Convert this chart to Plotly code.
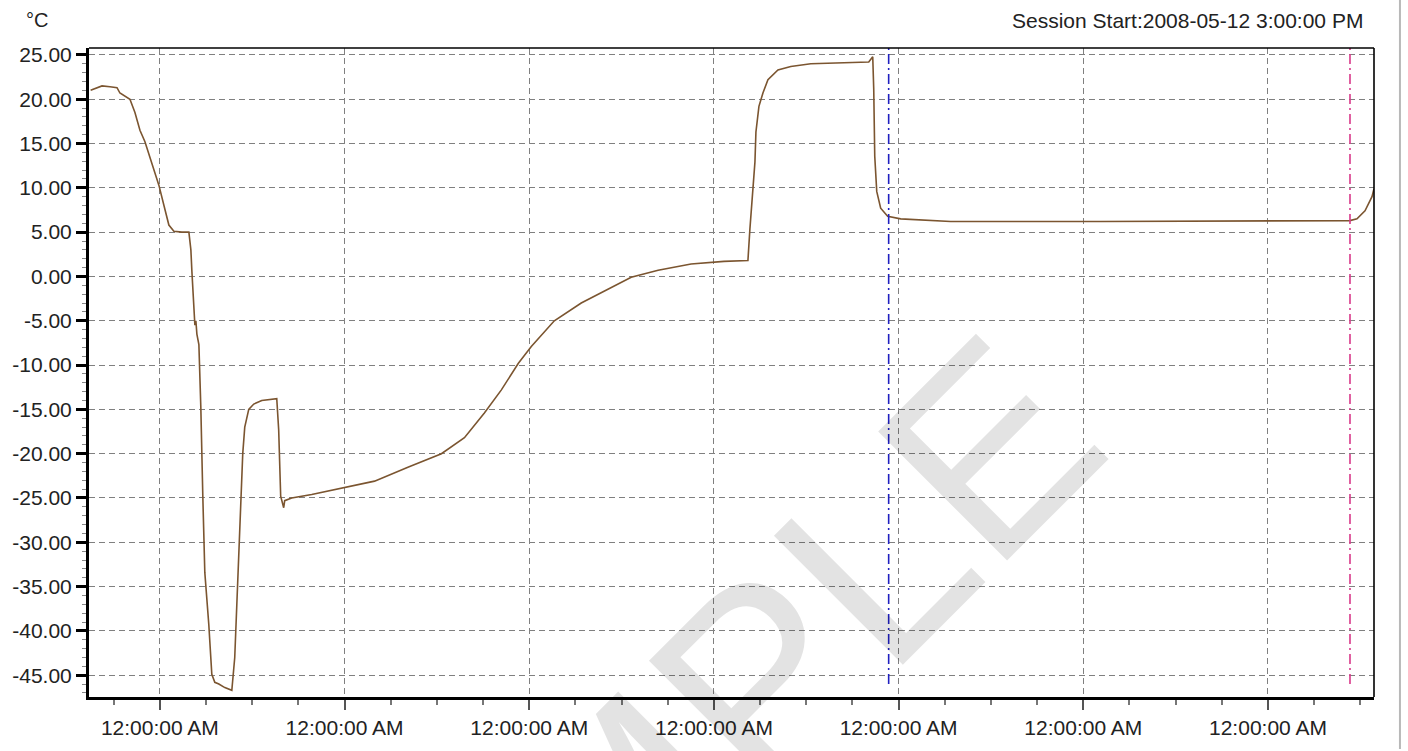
import pandas as pd
import plotly.graph_objects as go

# ---------------- data ----------------
session_start = "2008-05-12 15:00:00"

# hours elapsed since session start
hours = [0.0, 0.83, 1.48, 2.52, 3.43, 3.81, 4.59, 5.11, 5.76, 6.41, 7.06, 7.97, 8.87,
         9.53, 10.17, 10.82, 11.86, 12.77, 13.03, 13.16, 13.42, 13.55, 13.68, 13.81,
         14.07, 14.32, 14.58, 14.84, 15.36, 15.75, 16.14, 16.66, 17.44, 18.35, 18.73,
         19.25, 19.51, 19.77, 20.03, 20.55, 21.20, 22.24, 24.19, 24.44, 24.70, 25.09,
         25.22, 26.13, 28.73, 32.62, 36.90, 41.31, 45.59, 48.58, 51.17, 53.38, 55.59,
         57.27, 60.26, 63.76, 67.26, 70.25, 73.75, 78.03, 82.31, 85.42, 85.68, 86.07,
         86.33, 86.46, 86.85, 87.37, 88.02, 89.32, 90.99, 93.59, 100.08, 101.12, 101.64,
         101.77, 101.90, 102.16, 102.67, 103.58, 105.27, 108.77, 111.76, 131.22, 163.66,
         164.57, 165.61, 166.52, 166.78]

temperature_c = [21.0, 21.3, 21.5, 21.4, 21.3, 20.7, 20.3, 20.0, 18.5, 16.5, 15.2, 12.8, 10.3,
                 8.0, 5.8, 5.1, 5.0, 5.0, 3.0, 0.6, -4.3, -5.5, -5.0, -6.5,
                 -7.7, -14.7, -24.8, -33.4, -39.3, -44.9, -45.8, -46.0, -46.4, -46.7, -43.0,
                 -31.2, -24.8, -20.0, -17.0, -15.0, -14.4, -14.0, -13.8, -17.3, -24.8, -26.1,
                 -25.3, -25.0, -24.6, -23.9, -23.1, -21.5, -20.0, -18.2, -15.4, -12.8, -9.8,
                 -7.9, -5.0, -3.0, -1.4, -0.1, 0.7, 1.4, 1.7, 1.8, 5.4, 9.9,
                 12.9, 16.3, 19.2, 20.7, 22.2, 23.3, 23.7, 24.0, 24.1, 24.2, 24.8,
                 21.1, 13.6, 9.6, 7.7, 6.8, 6.5, 6.3, 6.2, 6.2, 6.3,
                 6.5, 7.4, 9.0, 9.9]

# vertical marker lines (hours since session start)
marker_hours = [103.71, 163.66]
marker_colors = ["#2020c0", "#d8388a"]

# axis extents (hours since session start)
x_range_hours = [-0.21, 166.78]
y_range = [-47.46, 25.78]

y_tick_vals = [25, 20, 15, 10, 5, 0, -5, -10, -15, -20, -25, -30, -35, -40, -45]
y_tick_labels = ["%.2f" % v for v in y_tick_vals]

unit_label = "°C"
session_label = "Session Start:2008-05-12 3:00:00 PM"
watermark = "SAMPLE"

# ---------------- figure ----------------
t0 = pd.Timestamp(session_start)
times = [t0 + pd.Timedelta(hours=h) for h in hours]
x_range = [t0 + pd.Timedelta(hours=h) for h in x_range_hours]
marker_times = [t0 + pd.Timedelta(hours=h) for h in marker_hours]

FONT = "Liberation Sans, Arial, sans-serif"

fig = go.Figure()
fig.add_trace(go.Scatter(
    x=times, y=temperature_c, mode="lines",
    line=dict(color="#7b5530", width=1.6),
    hoverinfo="x+y", showlegend=False,
))

shapes = []
for mt, mc in zip(marker_times, marker_colors):
    shapes.append(dict(type="line", xref="x", yref="paper", x0=mt, x1=mt, y0=0.02, y1=1,
                       line=dict(color=mc, width=1.6, dash="10px,4px,2px,4px")))
# top & right thin border
shapes.append(dict(type="line", xref="paper", yref="paper", x0=0, x1=1, y0=1, y1=1,
                   line=dict(color="black", width=1.6)))
shapes.append(dict(type="line", xref="paper", yref="paper", x0=1, x1=1, y0=0, y1=1,
                   line=dict(color="black", width=1.6)))
# window edge line at far right
shapes.append(dict(type="line", xref="paper", yref="paper", x0=1.0202, x1=1.0202,
                   y0=-0.08, y1=1.08, line=dict(color="#b8b8b8", width=2)))

annotations = [
    dict(text=watermark, xref="paper", yref="paper", x=0.4533, y=-0.1064,
         xanchor="center", yanchor="middle", showarrow=False, textangle=-45,
         font=dict(family=FONT, size=265, color="rgba(0,0,0,0.11)")),
    dict(text=unit_label, xref="paper", yref="paper", x=-0.0505, y=1.043,
         xanchor="left", yanchor="middle", showarrow=False,
         font=dict(family=FONT, size=20, color="#222")),
    dict(text=session_label, xref="paper", yref="paper", x=0.993, y=1.043,
         xanchor="right", yanchor="middle", showarrow=False,
         font=dict(family=FONT, size=21, color="#222")),
]

fig.update_layout(
    width=1408, height=751,
    margin=dict(l=87, r=34, t=48, b=48, pad=0),
    paper_bgcolor="white", plot_bgcolor="white",
    font=dict(family=FONT, size=21, color="#222"),
    shapes=shapes, annotations=annotations,
    showlegend=False,
)

fig.update_xaxes(
    type="date", range=x_range,
    showline=True, linecolor="black", linewidth=3,
    ticks="outside", ticklen=10, tickwidth=2, tickcolor="#555",
    tick0="2008-05-13", dtick=86400000, tickformat="%I:%M:%S %p",
    tickfont=dict(family=FONT, size=21, color="#222"),
    showgrid=True, gridcolor="#808080", gridwidth=1.3, griddash="6px,4px",
    zeroline=False,
    minor=dict(tick0="2008-05-13", dtick=21600000, ticks="outside", ticklen=5,
               tickwidth=1.5, tickcolor="#777", showgrid=False),
)

fig.update_yaxes(
    range=y_range, tickmode="array", tickvals=y_tick_vals, ticktext=y_tick_labels,
    showline=True, linecolor="black", linewidth=3,
    ticks="outside", ticklen=10, tickwidth=2.5, tickcolor="black",
    tickfont=dict(family=FONT, size=21, color="#222"),
    showgrid=True, gridcolor="#808080", gridwidth=1.3, griddash="6px,4px",
    zeroline=False,
    minor=dict(tickmode="linear", tick0=0, dtick=1, ticks="outside", ticklen=4,
               tickwidth=1, tickcolor="#888", showgrid=False),
)

fig.write_html("out.html", config={"displayModeBar": False},
               post_script="document.body.style.margin='0';")
